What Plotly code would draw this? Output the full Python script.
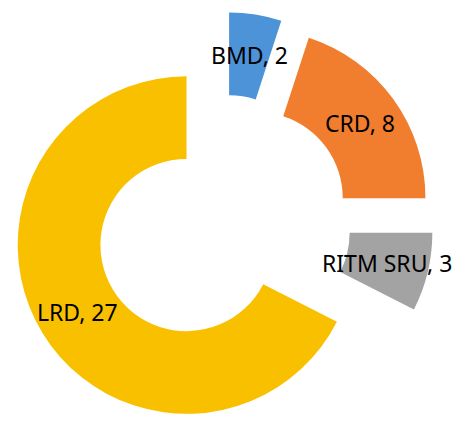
import math
import plotly.graph_objects as go

labels = ["BMD", "CRD", "RITM SRU", "LRD"]
values = [2, 8, 3, 27]
colors = ["#4d93d8", "#f07e2e", "#a3a3a3", "#f9c000"]
pulls = [0.25, 0.25, 0.25, 0.25]
hole = 0.51

W, H = 475, 426
ML, MR, MT, MB = 0, 46, 4, 0

fig = go.Figure(
    go.Pie(
        labels=labels,
        values=values,
        hole=hole,
        sort=False,
        direction="clockwise",
        rotation=0,
        pull=pulls,
        marker=dict(colors=colors, line=dict(width=0)),
        textinfo="none",
        showlegend=False,
        hoverinfo="label+value",
    )
)

# data labels at the middle of each ring segment, along its bisector
pw, ph = W - ML - MR, H - MT - MB
R = min(pw, ph) / (2 + 2 * max(pulls))
total = sum(values)
start = 0
for lab, val, p in zip(labels, values, pulls):
    mid = (start + val / 2) / total * 2 * math.pi
    start += val
    dist = p * R + R * (1 + hole) / 2
    dx = dist * math.sin(mid)
    dy = -dist * math.cos(mid)
    fig.add_annotation(
        x=0.5 + dx / pw, y=0.5 - dy / ph, xref="paper", yref="paper",
        text=f"{lab}, {val}", showarrow=False,
        font=dict(family="Noto Sans", size=23, color="black"),
        xanchor="center", yanchor="middle",
    )

fig.update_layout(
    width=W,
    height=H,
    margin=dict(l=ML, r=MR, t=MT, b=MB),
    paper_bgcolor="white",
    plot_bgcolor="white",
)

fig.write_html("out.html")
